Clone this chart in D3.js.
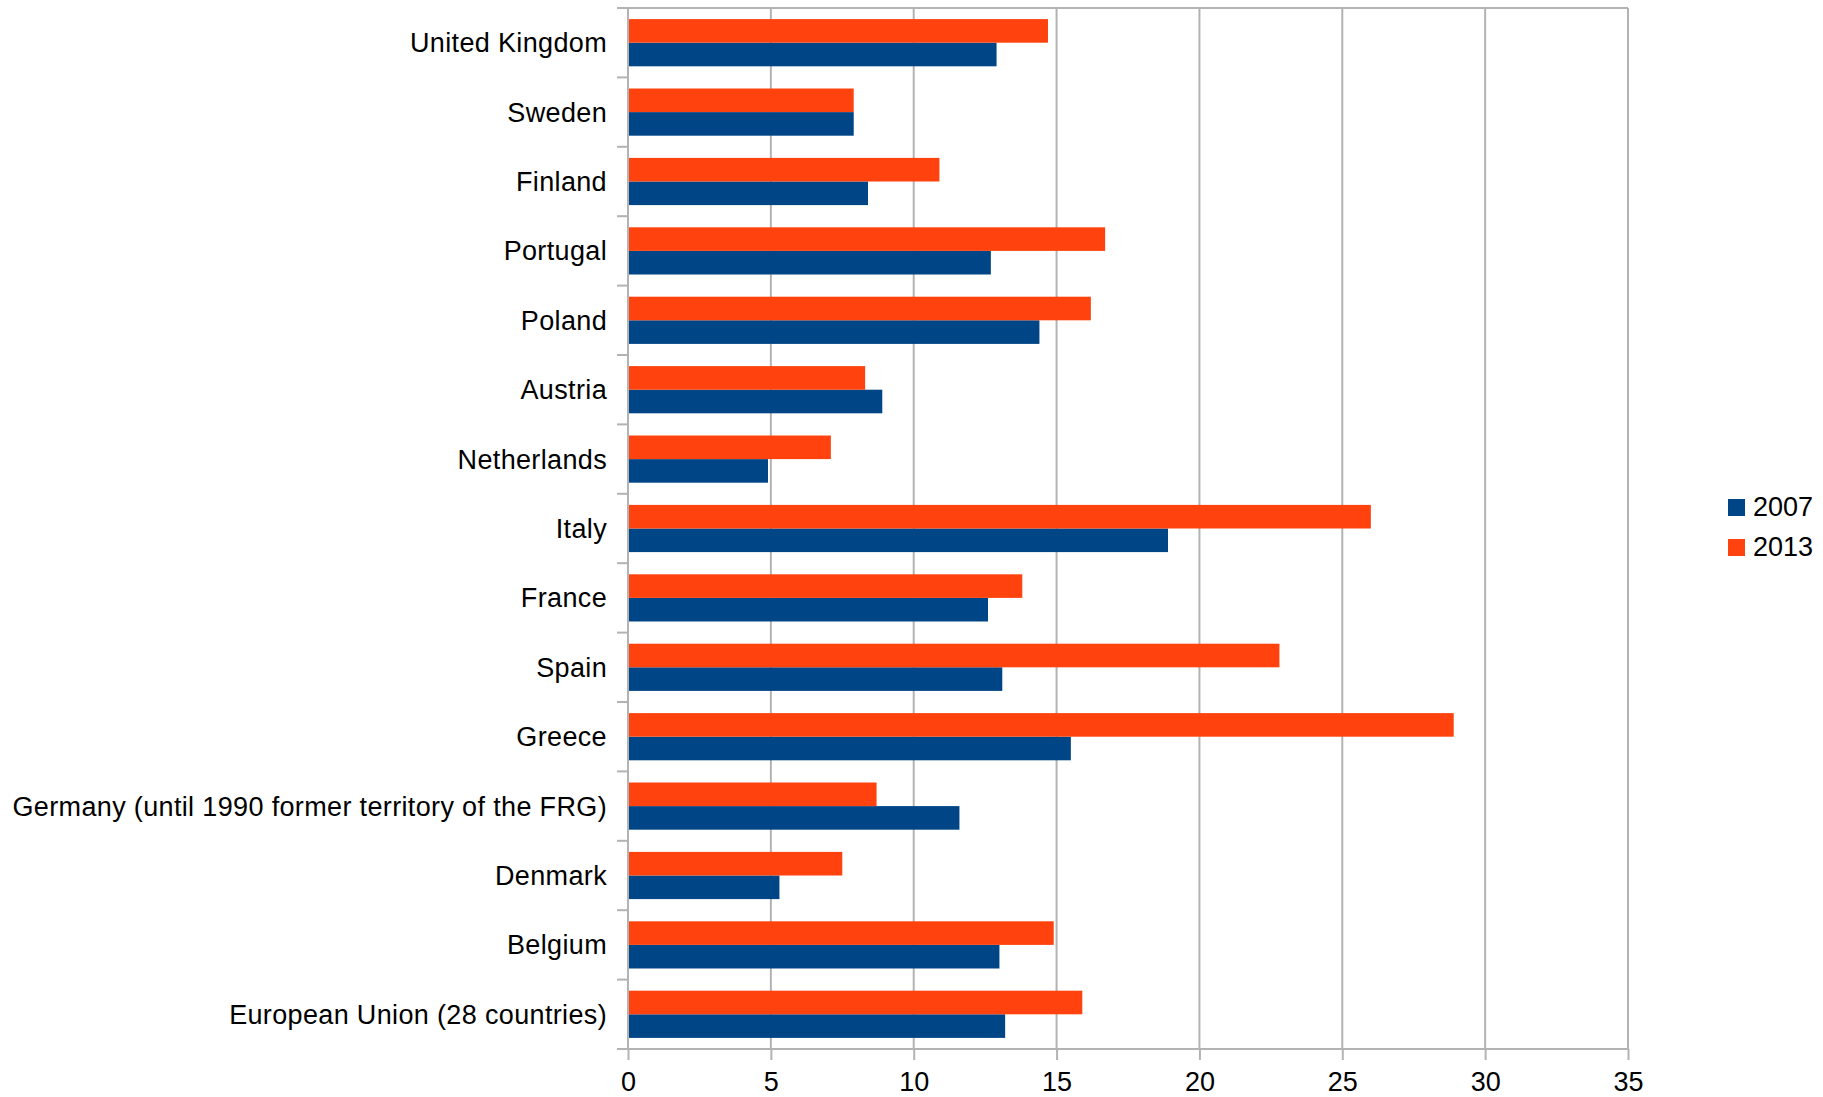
<!DOCTYPE html>
<html>
<head>
<meta charset="utf-8">
<script src="https://cdn.jsdelivr.net/npm/d3@7"></script>
<style>
    body { margin: 0; background: #fff; }
</style>
</head>
<body>
<div id="chart"></div>
<script>
// categories from bottom to top, the way the chart lists them
const countries = [
    "European Union (28 countries)",
    "Belgium",
    "Denmark",
    "Germany (until 1990 former territory of the FRG)",
    "Greece",
    "Spain",
    "France",
    "Italy",
    "Netherlands",
    "Austria",
    "Poland",
    "Portugal",
    "Finland",
    "Sweden",
    "United Kingdom"
]
const years = ["2007", "2013"]
const values2007 = [13.2, 13.0, 5.3, 11.6, 15.5, 13.1, 12.6, 18.9, 4.9, 8.9, 14.4, 12.7, 8.4, 7.9, 12.9]
const values2013 = [15.9, 14.9, 7.5, 8.7, 28.9, 22.8, 13.8, 26.0, 7.1, 8.3, 16.2, 16.7, 10.9, 7.9, 14.7]
const xTicks = [0, 5, 10, 15, 20, 25, 30, 35]

const colors = { "2007": "#004586", "2013": "#ff420e" }
const gridColor = "#b3b3b3"
const font = "'Liberation Sans', Arial, sans-serif"
const fontSize = 27

let width = 1823
let height = 1097
let plot = { left: 628, right: 1628, top: 8, bottom: 1049 }

const data = countries.map((c, i) => ({ country: c, "2007": values2007[i], "2013": values2013[i] }))

let svg = d3.select("#chart")
    .append("svg")
    .attr("width", width)
    .attr("height", height)

svg.append("rect")
    .attr("width", width)
    .attr("height", height)
    .attr("fill", "#fff")

// X axis
let x = d3.scaleLinear()
    .domain([0, 35])
    .range([plot.left, plot.right])

// Y axis (first category at the bottom)
let y = d3.scaleBand()
    .domain(countries.slice().reverse())
    .range([plot.top, plot.bottom])
    .paddingInner(0.32)
    .paddingOuter(0.16)

let ySeries = d3.scaleBand()
    .domain(["2013", "2007"])
    .range([0, y.bandwidth()])

// vertical grid lines
svg.append("g")
    .selectAll("line")
    .data(xTicks)
    .enter()
    .append("line")
    .attr("x1", d => x(d))
    .attr("x2", d => x(d))
    .attr("y1", plot.top)
    .attr("y2", plot.bottom)
    .attr("stroke", gridColor)
    .attr("stroke-width", 2)

// category boundary ticks on the left
const step = y.step()
const boundaries = d3.range(countries.length + 1).map(i => plot.top + i * step)
svg.append("g")
    .selectAll("line")
    .data(boundaries)
    .enter()
    .append("line")
    .attr("x1", plot.left - 11)
    .attr("x2", plot.left)
    .attr("y1", d => d)
    .attr("y2", d => d)
    .attr("stroke", gridColor)
    .attr("stroke-width", 2)

// frame top line
svg.append("line")
    .attr("x1", plot.left - 11)
    .attr("x2", plot.right)
    .attr("y1", plot.top)
    .attr("y2", plot.top)
    .attr("stroke", gridColor)
    .attr("stroke-width", 2)

// bars
const groups = svg.append("g")
    .selectAll("g")
    .data(data)
    .enter()
    .append("g")
    .attr("transform", d => "translate(0," + y(d.country) + ")")

groups.selectAll("rect")
    .data(d => years.map(k => ({ key: k, value: d[k] })))
    .enter()
    .append("rect")
    .attr("x", x(0))
    .attr("y", d => ySeries(d.key))
    .attr("width", d => x(d.value) - x(0))
    .attr("height", ySeries.bandwidth())
    .attr("fill", d => colors[d.key])

// left axis line
svg.append("line")
    .attr("x1", plot.left)
    .attr("x2", plot.left)
    .attr("y1", plot.top)
    .attr("y2", plot.bottom)
    .attr("stroke", gridColor)
    .attr("stroke-width", 2)

// bottom axis
let xAxis = d3.axisBottom(x)
    .tickValues(xTicks)
    .tickSize(11)
    .tickSizeOuter(0)
    .tickFormat(d3.format("d"))

const axisG = svg.append("g")
    .attr("transform", "translate(0," + plot.bottom + ")")
    .call(xAxis)

axisG.select(".domain")
    .attr("d", "M" + (plot.left - 11) + ",0H" + plot.right)
    .attr("stroke", gridColor)
    .attr("stroke-width", 2)

axisG.selectAll(".tick line")
    .attr("stroke", gridColor)
    .attr("stroke-width", 2)

axisG.selectAll(".tick text")
    .attr("y", 42)
    .attr("dy", null)
    .attr("font-size", fontSize)
    .attr("font-family", font)
    .style("fill", "#000")

// category labels
svg.append("g")
    .selectAll("text")
    .data(countries)
    .enter()
    .append("text")
    .attr("x", plot.left - 21)
    .attr("y", d => y(d) + y.bandwidth() / 2 + 9.5)
    .attr("text-anchor", "end")
    .attr("font-size", fontSize)
    .attr("font-family", font)
    .attr("letter-spacing", "0.35px")
    .style("fill", "#000")
    .text(d => d)

// legend
const legend = svg.append("g")
    .selectAll("g")
    .data(years)
    .enter()
    .append("g")
    .attr("transform", (d, i) => "translate(1728," + (499 + i * 40) + ")")

legend.append("rect")
    .attr("width", 17)
    .attr("height", 17)
    .attr("fill", d => colors[d])

legend.append("text")
    .attr("x", 25)
    .attr("y", 17)
    .attr("font-size", fontSize)
    .attr("font-family", font)
    .style("fill", "#000")
    .text(d => d)
</script>
</body>
</html>
